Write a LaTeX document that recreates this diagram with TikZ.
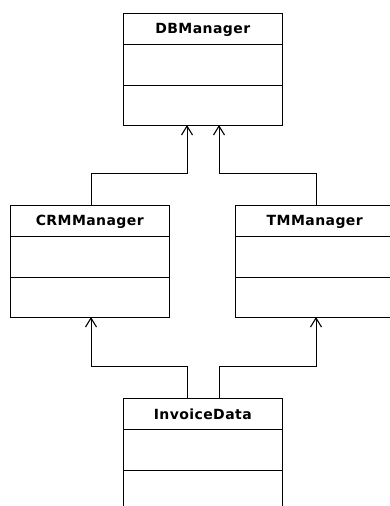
\documentclass[tikz,border=0pt]{standalone}
\usepackage{fontspec}
\setmainfont{DejaVu Sans}
\usetikzlibrary{arrows.meta,calc}

\tikzset{
  cls/.style={draw, line width=1pt, fill=white, anchor=north west,
    minimum width=159.5pt, minimum height=112pt, inner sep=0pt, outer sep=0pt},
  clsname/.style={font=\fontsize{14}{17}\selectfont\bfseries\addfontfeature{LetterSpace=3}, inner sep=0pt},
  compart/.style={line width=1pt},
  gen/.style={line width=1pt, -{Straight Barb[length=9pt,width=11pt,line width=1.1pt]}}
}

\begin{document}
\begin{tikzpicture}[x=1pt,y=-1pt]
  \useasboundingbox (0,0) rectangle (390,506);
  \fill[white] (0,0) rectangle (390,506);
  \clip (0,0) rectangle (390,506);

  % class boxes
  \node[cls] (db)  at (123,13)  {};
  \node[cls] (crm) at (10,205)  {};
  \node[cls] (tm)  at (235,205) {};
  \node[cls] (inv) at (123,398) {};

  % compartments and class names
  \foreach \c/\t in {db/DBManager, crm/CRMManager, tm/TMManager, inv/InvoiceData}{
    \draw[compart] ($(\c.north west)+(0,31.5)$) -- ($(\c.north east)+(0,31.5)$);
    \draw[compart] ($(\c.north west)+(0,72.5)$) -- ($(\c.north east)+(0,72.5)$);
    \node[clsname] (\c-name) at ($(\c.north)+(0,16.5)$) {\t};
  }

  % generalisation connectors
  \draw[gen] ([xshift=81pt]crm.north west) -- ++(0,-32) -| ([xshift=64pt]db.south west);
  \draw[gen] ([xshift=81pt]tm.north west)  -- ++(0,-32) -| ([xshift=96pt]db.south west);
  \draw[gen] ([xshift=64pt]inv.north west) -- ++(0,-32) -| ([xshift=81pt]crm.south west);
  \draw[gen] ([xshift=96pt]inv.north west) -- ++(0,-32) -| ([xshift=81pt]tm.south west);
\end{tikzpicture}
\end{document}
